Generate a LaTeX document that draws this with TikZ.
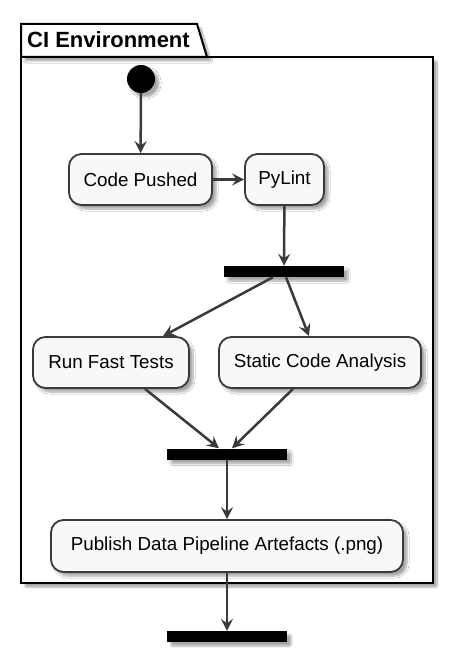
\documentclass[tikz,border=0pt]{standalone}
\usepackage{fontspec}
\setmainfont{Liberation Sans}
\usetikzlibrary{arrows.meta,shadows.blur}
\definecolor{edge}{HTML}{3A3A3A}
\definecolor{actfill}{HTML}{F8F8F8}
\tikzset{
  shad/.style={blur shadow={shadow xshift=4pt,shadow yshift=-4pt,shadow blur steps=6,shadow blur extra rounding=1pt,shadow opacity=35}},
  act/.style={draw=edge,line width=1.8pt,fill=actfill,rounded corners=12.5pt,
    minimum height=51pt,inner sep=0pt,font=\fontsize{18.8}{22}\selectfont,shad},
  bar/.style={fill=black,draw=none,minimum width=120pt,minimum height=11pt,inner sep=0pt,shad},
  arr/.style={draw=edge,line width=2.5pt,-{Stealth[length=12pt,width=12pt,inset=4.5pt]}},
}
\begin{document}
\begin{tikzpicture}[x=1pt,y=-1pt]
\useasboundingbox (0,0) rectangle (466,660);
% package frame
\path[shad,draw=black,line width=2pt,fill=white] (21,57) rectangle (433,583);
\path[shad,draw=black,line width=2pt,fill=white] (21,57) -- (21,24) -- (197,24) -- (207,57) -- cycle;
\node[anchor=west,inner sep=0pt,font=\bfseries\fontsize{22}{24}\selectfont] (title) at (27,40) {CI Environment};
% nodes
\node[circle,fill=black,minimum size=28pt,inner sep=0pt,shad] (start) at (141,79) {};
\node[act,minimum width=143pt] (cp) at (140.5,179.5) {Code Pushed};
\node[act,minimum width=79pt] (py) at (284.5,179.5) {PyLint};
\node[bar] (b1) at (284,271.5) {};
\node[act,minimum width=156pt] (run) at (111,362.5) {Run Fast Tests};
\node[act,minimum width=202pt] (sca) at (320,362.5) {Static Code Analysis};
\node[bar] (b2) at (227,454) {};
\node[act,minimum width=352pt,minimum height=52pt] (pub) at (227,546) {Publish Data Pipeline Artefacts (.png)};
\node[bar] (b3) at (227,636.5) {};
% connectors
\draw[arr] (start) -- (cp);
\draw[arr] (cp) -- (py);
\draw[arr] (py) -- (b1);
\draw[arr] ([xshift=-11pt]b1.south) -- ([xshift=52pt]run.north);
\draw[arr] ([xshift=2pt]b1.south) -- ([xshift=-11pt]sca.north);
\draw[arr] ([xshift=34pt]run.south) -- ([xshift=-8pt]b2.north);
\draw[arr] ([xshift=-27pt]sca.south) -- ([xshift=5pt]b2.north);
\draw[arr] (b2) -- (pub);
\draw[arr] (pub) -- (b3);
\end{tikzpicture}
\end{document}
